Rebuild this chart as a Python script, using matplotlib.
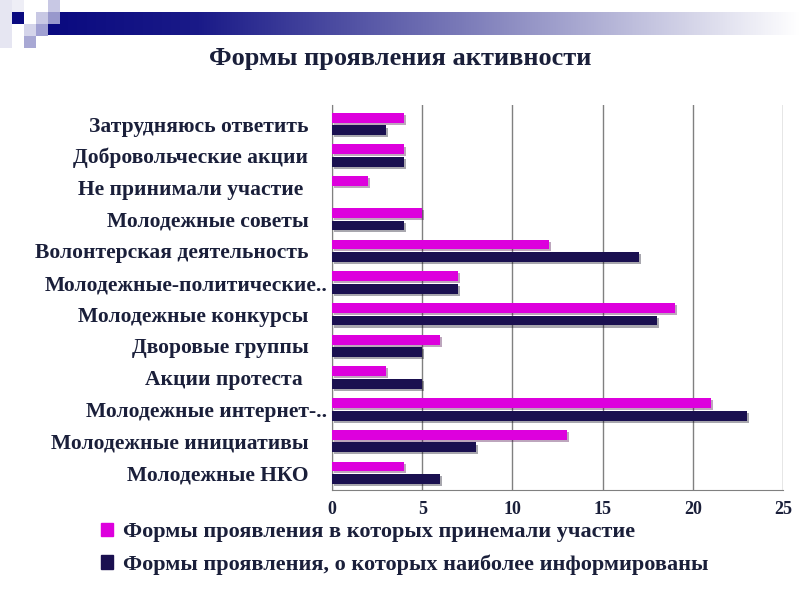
import matplotlib
matplotlib.use('Agg')
import matplotlib.pyplot as plt
import matplotlib.patches as mpatches
import matplotlib.patheffects as pe
import matplotlib.transforms as mtransforms
import numpy as np

# данные (сверху вниз, как на слайде)
categories = [
    'Затрудняюсь ответить',
    'Добровольческие акции',
    'Не принимали участие ',
    'Молодежные советы',
    'Волонтерская деятельность',
    'Молодежные-политические..',
    'Молодежные конкурсы',
    'Дворовые группы',
    'Акции протеста ',
    'Молодежные интернет-..',
    'Молодежные инициативы',
    'Молодежные НКО',
]
took_part = [4, 4, 2, 5, 12, 7, 19, 6, 3, 21, 13, 4]
informed = [3, 4, 0, 4, 17, 7, 18, 5, 5, 23, 8, 6]
x_ticks = [0, 5, 10, 15, 20, 25]

series_names = ['Формы проявления в которых принемали участие',
                'Формы проявления, о которых наиболее информированы']

PINK = '#dd00dd'
NAVY = '#1a1050'
TEXT = '#1a1f3a'

plt.rcParams['font.family'] = ['Liberation Serif', 'DejaVu Serif']
plt.rcParams['font.weight'] = 'bold'

fig = plt.figure(figsize=(8, 6), dpi=100)

# ── декоративная шапка слайда ──
deco = fig.add_axes([0, 0, 1, 1])
deco.set_xlim(0, 800)
deco.set_ylim(600, 0)
deco.axis('off')
grad = np.linspace(0, 1, 256)[None, :]
cmap = matplotlib.colors.LinearSegmentedColormap.from_list(
    'hdr', [(0, '#0a0a80'), (0.2, '#1a1a88'), (0.55, '#7a7ab8'), (1, '#ffffff')])
deco.imshow(grad, cmap=cmap, extent=[48, 800, 35, 12], aspect='auto')
deco.add_patch(mpatches.Rectangle((0, 0), 12, 48, color='#e6e6f2', lw=0))
deco.add_patch(mpatches.Rectangle((12, 0), 12, 12, color='#eeeef6', lw=0))
deco.add_patch(mpatches.Rectangle((12, 12), 12, 12, color='#0a0a80', lw=0))
deco.add_patch(mpatches.Rectangle((36, 12), 12, 12, color='#c8c8e4', lw=0))
deco.add_patch(mpatches.Rectangle((48, 0), 12, 12, color='#c8c8e4', lw=0))
deco.add_patch(mpatches.Rectangle((48, 12), 12, 12, color='#9898cc', lw=0))
deco.add_patch(mpatches.Rectangle((24, 24), 12, 12, color='#d4d4ea', lw=0))
deco.add_patch(mpatches.Rectangle((36, 24), 12, 12, color='#a0a0d2', lw=0))
deco.add_patch(mpatches.Rectangle((24, 36), 12, 12, color='#a8a8d4', lw=0))

fig.text(0.5, 0.903, 'Формы проявления активности', ha='center', va='center',
         fontsize=19, fontweight='bold', color=TEXT)

# ── график ──
ax = fig.add_axes([0.415, 0.183, 0.564, 0.642])
y = np.arange(len(categories))
h = 0.31
shadow = [pe.SimplePatchShadow(offset=(1.5, -1.5), alpha=0.35), pe.Normal()]
b1 = ax.barh(y - 0.2, took_part, height=h, color=PINK, zorder=3)
b2 = ax.barh(y + 0.2, informed, height=h, color=NAVY, zorder=3)
for b in list(b1) + list(b2):
    b.set_path_effects(shadow)

ax.set_ylim(len(categories) - 0.45, -0.6)
ax.set_xlim(0, 25)
ax.set_xticks(x_ticks)
ax.set_yticks(y)
ax.set_yticklabels(categories, fontsize=15.5, fontweight='bold', color=TEXT)
ax.tick_params(axis='x', labelsize=13, colors=TEXT, length=0, pad=8)
ax.tick_params(axis='y', length=0, pad=17)
ax.xaxis.grid(True, color='#808080', linewidth=1)
ax.set_axisbelow(True)
for s in ['top', 'right']:
    ax.spines[s].set_visible(False)
for s in ['left', 'bottom']:
    ax.spines[s].set_color('#808080')

# обрезанные подписи в оригинале выступают правее
shift = mtransforms.ScaledTranslation(19 / 100, 0, fig.dpi_scale_trans)
for lbl in ax.get_yticklabels():
    if lbl.get_text().endswith('..'):
        lbl.set_transform(lbl.get_transform() + shift)

handles = [mpatches.Patch(color=PINK), mpatches.Patch(color=NAVY)]
fig.legend(handles, series_names, loc='upper left', bbox_to_anchor=(0.101, 0.163),
           frameon=False, handlelength=0.55, handleheight=0.55, handletextpad=0.45,
           labelspacing=0.55, prop={'size': 16, 'weight': 'bold'}, labelcolor=TEXT)

fig.savefig('out.png', dpi=100)
